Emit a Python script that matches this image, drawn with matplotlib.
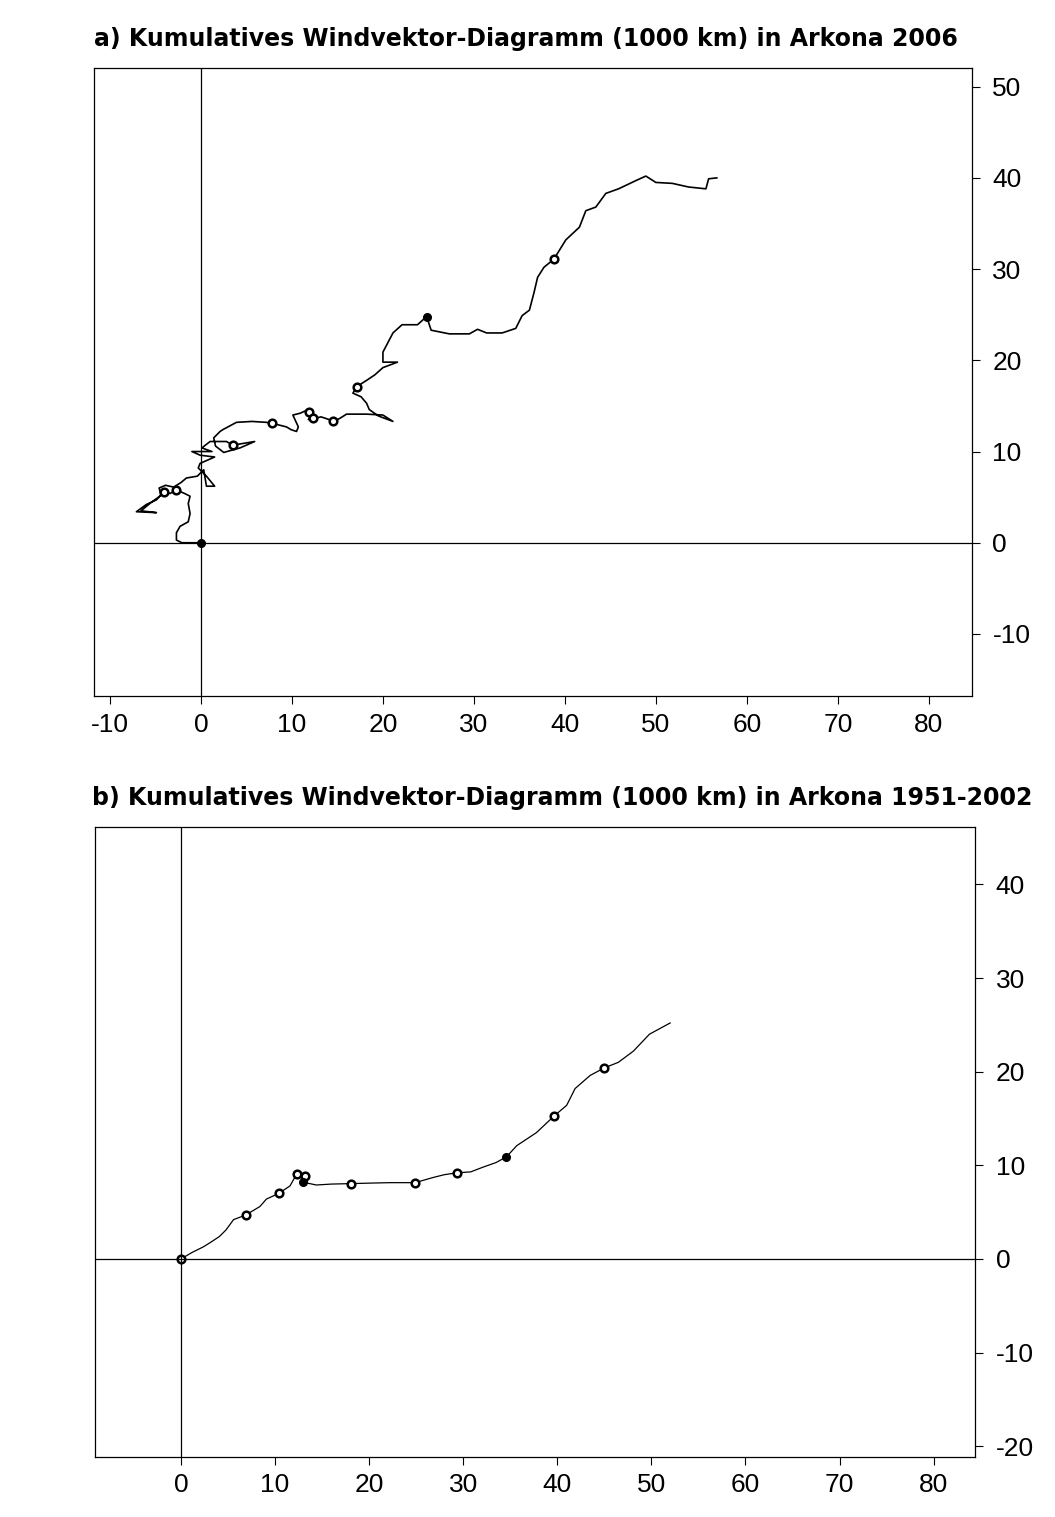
import matplotlib
matplotlib.use("Agg")
import matplotlib.pyplot as plt

plt.rcParams["font.family"] = ["Liberation Sans", "DejaVu Sans"]
plt.rcParams["axes.unicode_minus"] = False

# a) Arkona 2006, cumulative wind vector path (1000 km)
path06_x = [0, -2.1, -2.7, -2.7, -2.3, -1.4, -1.2, -1.4, -1.2, -1.8, -2.7, -3.4, -4.1,
            -4.9, -6.0, -7.1, -4.9, -6.6, -5.5, -4.4, -4.6, -3.9, -3.0, -2.2, -1.6,
            -0.4, 0.3, 0.6, 1.5, 0.6, -0.3, -0.1, 1.5, -0.1, -1.0, 1.2, 0.1, 1.0, 2.8,
            3.5, 5.9, 4.3, 2.5, 1.6, 1.4, 2.1, 2.4, 3.9, 5.6, 7.2, 7.8, 9.4, 9.9, 10.5,
            10.7, 10.1, 10.9, 11.8, 12.3, 11.8, 12.3, 13.2, 14.1, 14.5, 15.2, 16.0,
            18.2, 20.0, 21.1, 19.5, 18.5, 18.2, 17.6, 16.7, 17.1, 18.2, 19.1, 20.0,
            21.6, 20.0, 20.0, 21.1, 22.1, 23.8, 24.8, 25.3, 27.3, 29.5, 30.4, 31.4,
            33.1, 34.6, 35.3, 36.1, 36.6, 37.0, 37.7, 38.8, 40.1, 41.6, 42.3, 43.4,
            44.5, 45.9, 47.8, 48.9, 50.0, 51.8, 53.6, 55.5, 55.8, 56.7]
path06_y = [0, 0, 0.3, 1.1, 1.8, 2.3, 3.2, 4.3, 5.1, 5.4, 5.8, 5.4, 5.6,
            4.7, 4.2, 3.4, 3.3, 3.5, 4.4, 5.2, 6.0, 6.3, 6.1, 6.6, 7.1,
            7.3, 8.0, 6.2, 6.2, 7.3, 8.2, 8.7, 9.4, 9.6, 10.0, 10.0, 10.4, 11.1, 11.1,
            10.7, 11.1, 10.4, 9.9, 10.6, 11.5, 12.2, 12.4, 13.2, 13.3, 13.2, 13.1, 12.7, 12.4, 12.2,
            12.7, 14.0, 14.2, 14.6, 14.2, 13.5, 13.6, 13.8, 13.5, 13.3, 13.6, 14.1,
            14.1, 14.0, 13.3, 13.9, 14.6, 15.3, 16.0, 16.4, 17.1, 17.8, 18.4, 19.2,
            19.8, 19.8, 20.9, 23.0, 23.9, 23.9, 24.8, 23.3, 22.9, 22.9, 23.4, 23.0,
            23.0, 23.5, 24.9, 25.5, 27.4, 29.1, 30.2, 31.1, 33.2, 34.6, 36.4, 36.8,
            38.3, 38.8, 39.7, 40.2, 39.5, 39.4, 39.0, 38.8, 39.9, 40.0]
mark06_x = [-4.1, -2.7, 3.5, 7.8, 11.9, 12.3, 14.5, 17.1, 38.8]
mark06_y = [5.6, 5.8, 10.7, 13.1, 14.3, 13.7, 13.3, 17.1, 31.1]
fill06_x = [0, 24.8]
fill06_y = [0, 24.8]

# b) Arkona 1951-2002
path51_x = [0, 1.2, 2.4, 3.2, 4.1, 4.8, 5.6, 6.9, 8.4, 9.1, 10.4, 11.6, 12.3, 13.0,
            13.2, 13.0, 14.4, 16.0, 18.1, 20.0, 22.2, 24.9, 26.8, 28.0, 29.3, 30.8,
            32.1, 33.5, 34.6, 35.7, 37.8, 39.7, 41.0, 41.9, 43.5, 45.0, 46.5, 48.1,
            49.8, 52.0]
path51_y = [0, 0.7, 1.3, 1.8, 2.4, 3.1, 4.2, 4.7, 5.6, 6.4, 7.0, 7.8, 9.05, 9.1,
            8.9, 8.2, 7.9, 8.0, 8.05, 8.1, 8.15, 8.15, 8.7, 9.0, 9.2, 9.3,
            9.8, 10.3, 10.9, 12.1, 13.5, 15.3, 16.4, 18.2, 19.6, 20.4, 21.0, 22.2,
            24.0, 25.2]
mark51_x = [0, 6.9, 10.4, 12.3, 13.2, 18.1, 24.9, 29.3, 39.7, 45.0]
mark51_y = [0, 4.7, 7.0, 9.05, 8.9, 8.05, 8.15, 9.2, 15.3, 20.4]
fill51_x = [13.0, 34.6]
fill51_y = [8.2, 10.9]

xticks = [-10, 0, 10, 20, 30, 40, 50, 60, 70, 80]
yticks_a = [-10, 0, 10, 20, 30, 40, 50]
yticks_b = [-20, -10, 0, 10, 20, 30, 40]

fig = plt.figure(figsize=(10.55, 15.17), dpi=100)
ax1 = fig.add_axes([0.0891, 0.5412, 0.8318, 0.4143])
ax2 = fig.add_axes([0.0896, 0.0398, 0.8346, 0.4149])


def style(ax, xlim, ylim, yticks):
    ax.axhline(0, color="black", lw=0.9)
    ax.axvline(0, color="black", lw=0.9)
    ax.set_xlim(*xlim)
    ax.set_ylim(*ylim)
    ax.set_xticks([t for t in xticks if xlim[0] < t < xlim[1]])
    ax.set_yticks(yticks)
    ax.yaxis.tick_right()
    ax.tick_params(direction="out", length=6, width=0.8, labelsize=19, pad=6)
    ax.tick_params(axis="y", pad=9)
    for s in ax.spines.values():
        s.set_linewidth(0.9)


ax1.plot(path06_x, path06_y, color="black", lw=1.2)
ax1.plot(mark06_x, mark06_y, "o", ms=5.5, mfc="white", mec="black", mew=1.8)
ax1.plot(fill06_x, fill06_y, "o", ms=5.5, color="black")
style(ax1, (-11.76, 84.7), (-16.8, 52.1), yticks_a)

ax2.plot(path51_x, path51_y, color="black", lw=0.9)
ax2.plot(mark51_x, mark51_y, "o", ms=5.5, mfc="white", mec="black", mew=1.8)
ax2.plot(fill51_x, fill51_y, "o", ms=5.5, color="black")
style(ax2, (-9.17, 84.4), (-21.1, 46.1), yticks_b)

fig.text(0.089, 1 - 46 / 1517, "a) Kumulatives Windvektor-Diagramm (1000 km) in Arkona 2006",
         fontsize=17, fontweight="bold", family="DejaVu Sans", ha="left", va="baseline")
fig.text(0.087, 1 - 805 / 1517, "b) Kumulatives Windvektor-Diagramm (1000 km) in Arkona 1951-2002",
         fontsize=17, fontweight="bold", family="DejaVu Sans", ha="left", va="baseline")

fig.savefig("out.png", dpi=100)
